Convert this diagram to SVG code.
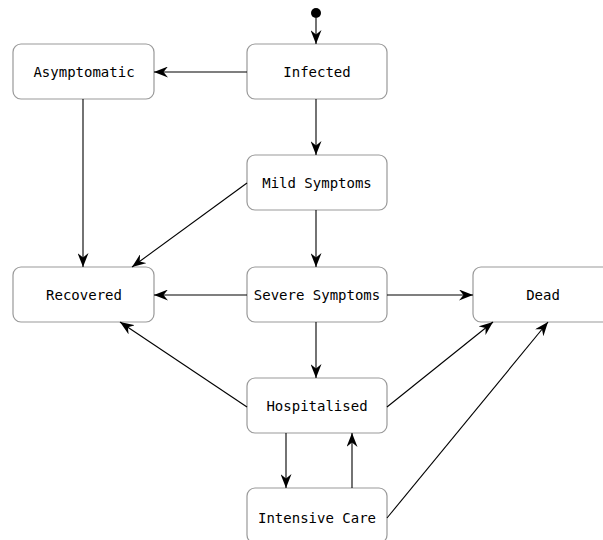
<svg xmlns="http://www.w3.org/2000/svg" width="603" height="540" viewBox="0 0 603 540">
<style>
.node rect{fill:#fff;stroke:#999;stroke-width:1.2}
.node text{font-family:"DejaVu Sans Mono",monospace;font-size:14px;fill:#000;text-anchor:middle;dominant-baseline:central}
.edges line{stroke:#000;stroke-width:1.1;marker-end:url(#arr)}
</style>
<defs>
<marker id="arr" viewBox="0 0 14 11" refX="14" refY="5.5" markerWidth="14" markerHeight="11" markerUnits="userSpaceOnUse" orient="auto">
<path d="M0,0 L14,5.5 L0,11 L4.5,5.5 z" fill="#000"/>
</marker>
</defs>
<circle cx="316" cy="13" r="5" fill="#000"/>
<g id="infected" class="node"><rect x="247" y="44" width="140" height="55" rx="8"/><text x="317" y="72">Infected</text></g>
<g id="asymptomatic" class="node"><rect x="13" y="44" width="141" height="55" rx="8"/><text x="84" y="72">Asymptomatic</text></g>
<g id="mild" class="node"><rect x="247" y="155" width="140" height="55" rx="8"/><text x="317" y="183">Mild Symptoms</text></g>
<g id="recovered" class="node"><rect x="13" y="267" width="141" height="55" rx="8"/><text x="84" y="295">Recovered</text></g>
<g id="severe" class="node"><rect x="247" y="267" width="140" height="55" rx="8"/><text x="317" y="295">Severe Symptoms</text></g>
<g id="dead" class="node"><rect x="473" y="267" width="140" height="55" rx="8"/><text x="543" y="295">Dead</text></g>
<g id="hospitalised" class="node"><rect x="247" y="378" width="140" height="55" rx="8"/><text x="317" y="406">Hospitalised</text></g>
<g id="intensive" class="node"><rect x="247" y="488" width="140" height="55" rx="8"/><text x="317" y="518">Intensive Care</text></g>
<g class="edges">
<line x1="316" y1="18" x2="316" y2="44"/>
<line x1="247" y1="72" x2="154" y2="72"/>
<line x1="316" y1="99" x2="316" y2="155"/>
<line x1="83" y1="99" x2="83" y2="267"/>
<line x1="247" y1="183" x2="132" y2="267"/>
<line x1="316" y1="210" x2="316" y2="267"/>
<line x1="247" y1="295" x2="154" y2="295"/>
<line x1="387" y1="295" x2="473" y2="295"/>
<line x1="316" y1="322" x2="316" y2="378"/>
<line x1="247" y1="407" x2="120" y2="322"/>
<line x1="387" y1="407" x2="493" y2="322"/>
<line x1="286" y1="433" x2="286" y2="488"/>
<line x1="352" y1="488" x2="352" y2="433"/>
<line x1="387" y1="518" x2="548" y2="322"/>
</g>
</svg>
